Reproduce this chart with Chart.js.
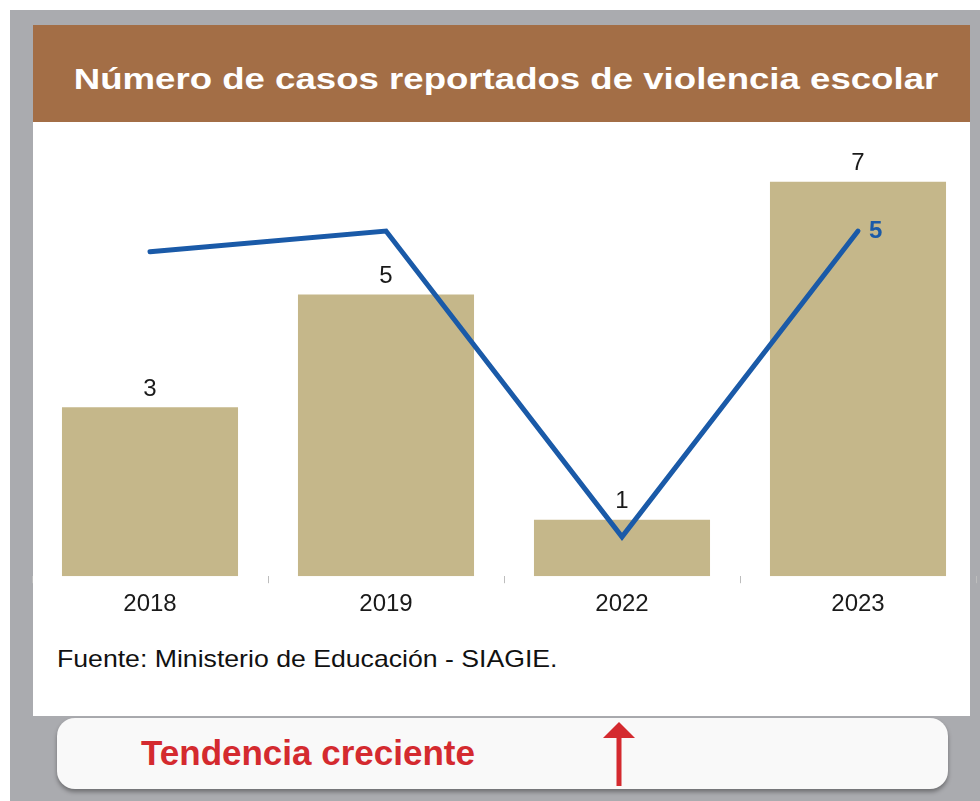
<!DOCTYPE html>
<html>
<head>
<meta charset="utf-8">
<script src="https://cdn.jsdelivr.net/npm/chart.js@4"></script>
<style>
  body { margin: 0; width: 980px; height: 801px; position: relative; background: #fff; font-family: "Liberation Sans", Arial, sans-serif; overflow: hidden; }
  #fondo { position: absolute; left: 10px; top: 10px; width: 970px; height: 791px; background: #aaabaf; }
  #panel { position: absolute; left: 33px; top: 25px; width: 937px; height: 691px; background: #fff; }
  #cabecera { position: absolute; left: 33px; top: 25px; width: 937px; height: 97px; background: #a36e46; }
  #titulo { position: absolute; left: 506px; top: 62px; white-space: nowrap; color: #fff; font-weight: bold; font-size: 30px; line-height: 34px; transform: translateX(-50%) scaleX(1.22); }
  #grafico { position: absolute; left: 0; top: 122px; }
  #fuente { position: absolute; left: 57px; top: 645px; white-space: nowrap; color: #111; font-size: 24px; line-height: 28px; transform-origin: left center; transform: scaleX(1.11); }
  #caja { position: absolute; left: 57px; top: 718px; width: 891px; height: 71px; background: #f9f9f9; border-radius: 18px; box-shadow: 0 3px 4px rgba(0,0,0,0.35); }
  #tendencia { position: absolute; left: 141px; top: 733px; white-space: nowrap; color: #d42a2f; font-weight: bold; font-size: 35px; line-height: 40px; }
  #flecha { position: absolute; left: 600px; top: 719px; }
</style>
</head>
<body>
<div id="fondo"></div>
<div id="panel"></div>
<div id="cabecera"></div>
<div id="titulo">Número de casos reportados de violencia escolar</div>
<canvas id="grafico" width="980" height="504"></canvas>
<div id="fuente">Fuente: Ministerio de Educación - SIAGIE.</div>
<div id="caja"></div>
<div id="tendencia">Tendencia creciente</div>
<svg id="flecha" width="40" height="72">
  <polygon points="19,3 3,19 35,19" fill="#d42a2f"/>
  <rect x="16.5" y="17" width="5" height="50" fill="#d42a2f"/>
</svg>

<script>
// datos
var anios = ['2018', '2019', '2022', '2023'];
var casos = [3, 5, 1, 7];
var tendencia = [4.7, 5, 0.57, 5];

var ctx = document.getElementById('grafico').getContext('2d');

// etiquetas de valores: barras arriba, linea solo el ultimo punto
var etiquetas = {
  id: 'etiquetas',
  afterDatasetsDraw: function(chart) {
    var c = chart.ctx;
    c.save();
    var barras = chart.getDatasetMeta(0).data;
    c.font = '24px "Liberation Sans", Arial, sans-serif';
    c.fillStyle = '#1a1a1a';
    c.textAlign = 'center';
    c.textBaseline = 'bottom';
    barras.forEach(function(b, i) {
      c.fillText(String(casos[i]), b.x, b.y - 6);
    });
    var puntos = chart.getDatasetMeta(1).data;
    var ult = puntos[puntos.length - 1];
    c.font = 'bold 24px "Liberation Sans", Arial, sans-serif';
    c.fillStyle = '#1a5aa8';
    c.textAlign = 'left';
    c.textBaseline = 'middle';
    c.fillText(String(tendencia[tendencia.length - 1]), ult.x + 11, ult.y);
    c.restore();
  }
};

var grafico = new Chart(ctx, {
  type: 'bar',
  data: {
    labels: anios,
    datasets: [{
      type: 'bar',
      data: casos,
      backgroundColor: '#c5b78a',
      barPercentage: 0.746,
      categoryPercentage: 1,
      yAxisID: 'y',
      order: 2
    }, {
      type: 'line',
      data: tendencia,
      borderColor: '#1a5aa8',
      borderWidth: 5,
      pointRadius: 0,
      borderCapStyle: 'round',
      tension: 0,
      yAxisID: 'y1',
      order: 1
    }]
  },
  options: {
    responsive: false,
    animation: false,
    layout: { padding: { left: 32, right: 4, top: 0, bottom: 0 } },
    plugins: { legend: { display: false }, tooltip: { enabled: false } },
    scales: {
      x: {
        grid: { display: true, drawOnChartArea: false, tickLength: 7, color: '#bdbdbd', offset: true },
        border: { display: false },
        ticks: { color: '#1a1a1a', font: { size: 24, family: '"Liberation Sans", Arial, sans-serif' }, padding: 7 }
      },
      y: { display: false, min: 0, max: 8.06 },
      y1: { display: false, min: 0, max: 6.58 }
    }
  },
  plugins: [etiquetas]
});
</script>
</body>
</html>
